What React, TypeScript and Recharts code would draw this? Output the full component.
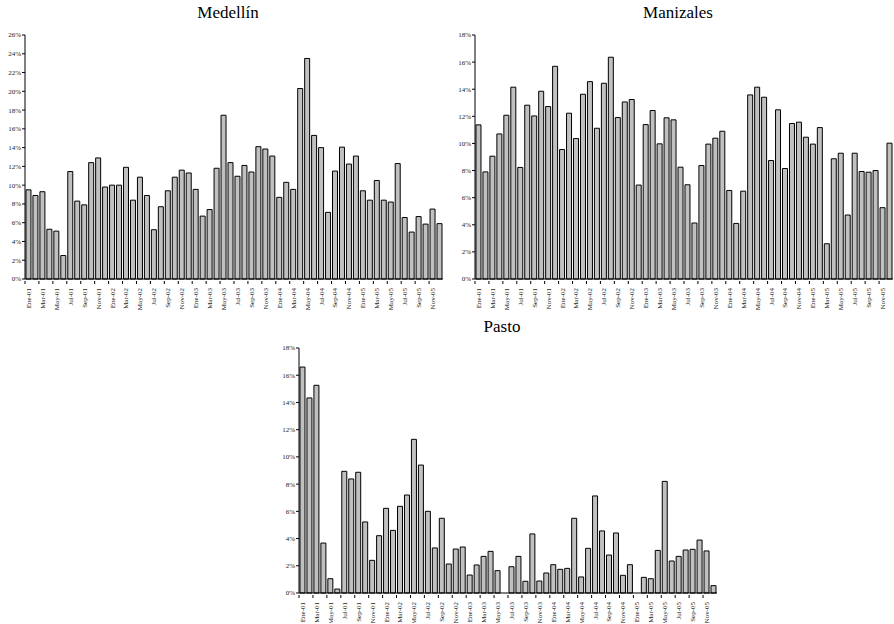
import React from 'react';
import { BarChart, Bar, XAxis, YAxis } from 'recharts';

const months = ['Ene', 'Feb', 'Mar', 'Abr', 'May', 'Jun', 'Jul', 'Ago', 'Sep', 'Oct', 'Nov', 'Dic'];
const years = ['01', '02', '03', '04', '05'];
const categories = years.flatMap((y) => months.map((m) => `${m}-${y}`));

// monthly values, in %
const medellin = [
  9.5, 8.9, 9.3, 5.3, 5.1, 2.5, 11.45, 8.3, 7.9, 12.4, 12.9, 9.8,
  10.0, 10.0, 11.9, 8.4, 10.85, 8.9, 5.25, 7.7, 9.4, 10.85, 11.6, 11.3,
  9.55, 6.7, 7.4, 11.8, 17.45, 12.4, 10.95, 12.1, 11.4, 14.1, 13.85, 13.1,
  8.7, 10.3, 9.55, 20.3, 23.5, 15.3, 14.0, 7.1, 11.5, 14.05, 12.25, 13.1,
  9.4, 8.4, 10.5, 8.4, 8.2, 12.3, 6.55, 5.0, 6.65, 5.85, 7.45, 5.9,
];
const manizales = [
  11.37, 7.9, 9.06, 10.7, 12.08, 14.15, 8.23, 12.82, 12.03, 13.85, 12.72, 15.69,
  9.55, 12.23, 10.36, 13.63, 14.56, 11.12, 14.44, 16.36, 11.91, 13.06, 13.24, 6.93,
  11.39, 12.43, 9.97, 11.89, 11.74, 8.25, 6.95, 4.13, 8.37, 9.95, 10.39, 10.9,
  6.53, 4.1, 6.48, 13.58, 14.15, 13.41, 8.74, 12.48, 8.15, 11.47, 11.57, 10.46,
  9.95, 11.17, 2.6, 8.87, 9.28, 4.72, 9.28, 7.93, 7.88, 8.0, 5.26, 10.02,
];
const pasto = [
  16.6, 14.33, 15.26, 3.67, 1.05, 0.29, 8.94, 8.38, 8.87, 5.22, 2.4, 4.21,
  6.22, 4.6, 6.37, 7.2, 11.29, 9.4, 6.0, 3.31, 5.49, 2.13, 3.23, 3.38,
  1.32, 2.06, 2.69, 3.06, 1.64, 0, 1.93, 2.69, 0.86, 4.34, 0.88, 1.47,
  2.08, 1.74, 1.81, 5.49, 1.18, 3.28, 7.13, 4.56, 2.79, 4.41, 1.3, 2.08,
  0, 1.15, 1.05, 3.13, 8.2, 2.35, 2.69, 3.16, 3.21, 3.89, 3.09, 0.54,
];

const ticks26 = [0, 2, 4, 6, 8, 10, 12, 14, 16, 18, 20, 22, 24, 26];
const ticks18 = [0, 2, 4, 6, 8, 10, 12, 14, 16, 18];

const FONT = '"Liberation Serif", "Times New Roman", serif';
const PLOT_W = 418;
const HALF_BAND = PLOT_W / categories.length / 2;

// rotated month label, with the tick mark on the category boundary (Excel style)
const MonthTick = (props: any) => {
  const { x, y, payload } = props;
  return (
    <g>
      <line x1={x - HALF_BAND} x2={x - HALF_BAND} y1={y} y2={y + 3} stroke="#000" />
      <g transform={`translate(${x},${y + 7})`}>
        <text transform="rotate(-90)" textAnchor="end" dy="0.35em" fontSize={7} fontFamily={FONT} fill="#222">
          {payload.value}
        </text>
      </g>
    </g>
  );
};

interface PanelProps {
  title: string;
  values: number[];
  ticks: number[];
  left: number;
  top: number;
  height: number;
  yWidth: number;
  right: number;
  xHeight: number;
  titleTop: number;
  titleX: number;
}

const Panel: React.FC<PanelProps> = ({ title, values, ticks, left, top, height, yWidth, right, xHeight, titleTop, titleX }) => {
  const data = categories.map((m, i) => ({ m, v: values[i] }));
  const max = ticks[ticks.length - 1];
  return (
    <>
      <div
        style={{
          position: 'absolute',
          left: titleX - 100,
          width: 200,
          top: titleTop,
          textAlign: 'center',
          fontFamily: FONT,
          fontSize: 17,
          lineHeight: '20px',
          color: '#000',
        }}
      >
        {title}
      </div>
      <div style={{ position: 'absolute', left, top }}>
        <BarChart
          width={yWidth + PLOT_W + right}
          height={height}
          data={data}
          margin={{ top: 35, right, bottom: 0, left: 0 }}
          barCategoryGap="14%"
        >
          <XAxis
            dataKey="m"
            interval={1}
            height={xHeight}
            tick={<MonthTick />}
            tickSize={0}
            tickLine={false}
            axisLine={{ stroke: '#000' }}
          />
          <XAxis xAxisId="t" dataKey="m" orientation="top" height={0} tick={false} tickLine={false} axisLine={{ stroke: '#555' }} />
          <YAxis
            domain={[0, max]}
            ticks={ticks}
            interval={0}
            width={yWidth}
            tickSize={3}
            tickMargin={1}
            tickFormatter={(v: number) => `${v}%`}
            tick={{ fontSize: 7, fontFamily: FONT, fill: '#222' }}
            axisLine={{ stroke: '#000' }}
            tickLine={{ stroke: '#000' }}
          />
          <YAxis yAxisId="r" orientation="right" domain={[0, max]} width={0} tick={false} tickLine={false} axisLine={{ stroke: '#666' }} />
          <Bar dataKey="v" fill="#c0c0c0" stroke="#000" strokeWidth={1} isAnimationActive={false} />
        </BarChart>
      </div>
    </>
  );
};

export default function App() {
  return (
    <div style={{ position: 'absolute', left: 0, top: 0, width: 894, height: 624, background: '#fff' }}>
      <Panel title="Medellín" values={medellin} ticks={ticks26} left={0} top={0} height={330}
        yWidth={25} right={7} xHeight={51} titleTop={3} titleX={228} />
      <Panel title="Manizales" values={manizales} ticks={ticks18} left={450} top={0} height={330}
        yWidth={25} right={1} xHeight={51} titleTop={3} titleX={678} />
      <Panel title="Pasto" values={pasto} ticks={ticks18} left={270} top={313} height={310}
        yWidth={29} right={13} xHeight={30} titleTop={317} titleX={502} />
    </div>
  );
}
